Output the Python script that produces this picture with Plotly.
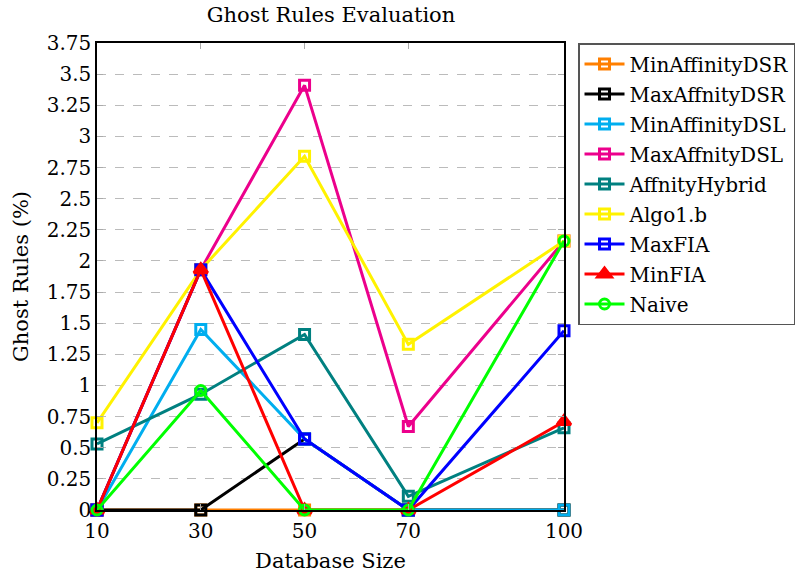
import plotly.graph_objects as go

x_sizes = [10, 30, 50, 70, 100]
min_aff_dsr = [0, 0, 0, 0, 0]
max_aff_dsr = [0, 0, 0.57, 0, 0]
min_aff_dsl = [0, 1.45, 0.57, 0, 0]
max_aff_dsl = [0, 1.93, 3.41, 0.67, 2.16]
aff_hybrid = [0.53, 0.93, 1.41, 0.11, 0.66]
algo1b = [0.70, 1.93, 2.84, 1.33, 2.16]
max_fia = [0, 1.93, 0.57, 0, 1.44]
min_fia = [0, 1.93, 0, 0, 0.71]
naive = [0, 0.96, 0, 0, 2.16]

series = [
    ("MinAffinityDSR", min_aff_dsr, "#FF7F00", "square-open"),
    ("MaxAffnityDSR", max_aff_dsr, "#000000", "square-open"),
    ("MinAffinityDSL", min_aff_dsl, "#00AEEF", "square-open"),
    ("MaxAffnityDSL", max_aff_dsl, "#EC008C", "square-open"),
    ("AffnityHybrid", aff_hybrid, "#008080", "square-open"),
    ("Algo1.b", algo1b, "#FFF200", "square-open"),
    ("MaxFIA", max_fia, "#0000FF", "square-open"),
    ("MinFIA", min_fia, "#FF0000", "triangle-up"),
    ("Naive", naive, "#00FF00", "circle-open"),
]

y_ticks = [i * 0.25 for i in range(16)]
y_labels = ["0", "0.25", "0.5", "0.75", "1", "1.25", "1.5", "1.75", "2",
            "2.25", "2.5", "2.75", "3", "3.25", "3.5", "3.75"]

FONT = "DejaVu Serif"

fig = go.Figure()
for name, vals, color, sym in series:
    fig.add_trace(go.Scatter(
        x=x_sizes, y=vals, name=name, mode="lines+markers", legendgroup=name,
        line=dict(color=color, width=3),
        marker=dict(symbol=sym, size=10 if sym != "triangle-up" else 12,
                    color=color, line=dict(color=color, width=3)),
        cliponaxis=False,
    ))

fig.update_layout(
    width=807, height=574,
    margin=dict(l=97, r=243, t=43, b=64),
    plot_bgcolor="white", paper_bgcolor="white",
    font=dict(family=FONT, size=20, color="black"),
    title=dict(text="Ghost Rules Evaluation", x=331/807, xanchor="center",
               y=1-15/574, yanchor="middle", font=dict(family=FONT, size=21)),
    showlegend=True,
    legend=dict(x=1.03, xanchor="left", y=1.0, yanchor="top",
                bordercolor="#555555", borderwidth=1.5, bgcolor="white",
                font=dict(family=FONT, size=20), itemwidth=40, tracegroupgap=1),
)
fig.update_xaxes(
    range=[10, 100], tickvals=x_sizes, ticktext=[str(v) for v in x_sizes],
    tickfont=dict(family=FONT, size=20), ticklabelstandoff=2, automargin=False,
    title=dict(text="Database Size", standoff=12, font=dict(family=FONT, size=21)),
    showline=True, linecolor="black", linewidth=1.5, mirror="allticks",
    ticks="inside", ticklen=6, tickcolor="#aaaaaa", showgrid=False, zeroline=False,
)
fig.update_yaxes(
    range=[0, 3.75], tickvals=y_ticks, ticktext=y_labels, automargin=False,
    tickfont=dict(family=FONT, size=20),
    title=dict(text="Ghost Rules (%)", standoff=12, font=dict(family=FONT, size=21)),
    showline=True, linecolor="black", linewidth=1.5, mirror="allticks",
    ticks="inside", ticklen=6, tickcolor="#aaaaaa",
    showgrid=True, gridcolor="#bbbbbb", griddash="dash", gridwidth=1, zeroline=False,
)

fig.write_html("out.html")
